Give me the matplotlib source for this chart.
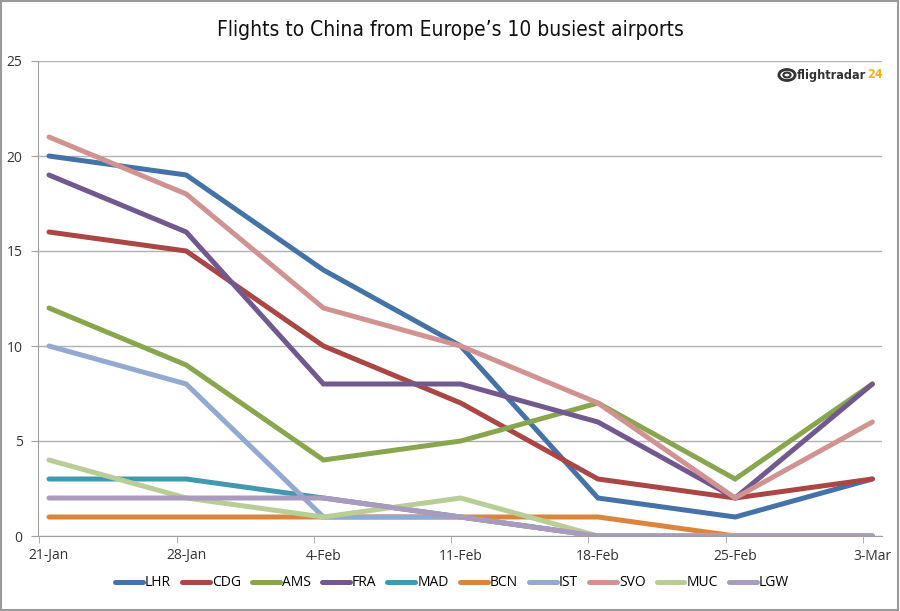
import matplotlib.pyplot as plt
from matplotlib.patches import Rectangle, Circle

# week labels
weeks = ['21-Jan', '28-Jan', '4-Feb', '11-Feb', '18-Feb', '25-Feb', '3-Mar']

# flights per airport
lhr = [20, 19, 14, 10, 2, 1, 3]
cdg = [16, 15, 10, 7, 3, 2, 3]
ams = [12, 9, 4, 5, 7, 3, 8]
fra = [19, 16, 8, 8, 6, 2, 8]
mad = [3, 3, 2, 1, 0, 0, 0]
bcn = [1, 1, 1, 1, 1, 0, 0]
ist = [10, 8, 1, 1, 0, 0, 0]
svo = [21, 18, 12, 10, 7, 2, 6]
muc = [4, 2, 1, 2, 0, 0, 0]
lgw = [2, 2, 2, 1, 0, 0, 0]

airports = ['LHR', 'CDG', 'AMS', 'FRA', 'MAD', 'BCN', 'IST', 'SVO', 'MUC', 'LGW']
series = [lhr, cdg, ams, fra, mad, bcn, ist, svo, muc, lgw]
colors = ['#4572A7', '#AA4643', '#89A54E', '#71588F', '#4198AF',
          '#DB843D', '#93A9CF', '#D19392', '#B9CD96', '#A99BBD']

plt.rcParams['font.family'] = ['Open Sans', 'DejaVu Sans']

fig = plt.figure(figsize=(9, 6.11), dpi=100)
ax = fig.add_axes([38 / 900, 1 - 536 / 611, (882 - 38) / 900, (536 - 61) / 611])

x = list(range(len(weeks)))
for name, vals, c in zip(airports, series, colors):
    ax.plot(x, vals, color=c, lw=3.6, label=name, solid_capstyle='round', solid_joinstyle='miter')

ax.set_xlim(-0.08, 6.07)
ax.set_ylim(0, 25)
ax.set_yticks([0, 5, 10, 15, 20, 25])
ax.set_xticks(x)
ax.set_xticklabels(weeks, fontsize=10, color='#333333')
ax.tick_params(axis='x', length=0, pad=9)
ax.set_xticks([i - 0.07 for i in x], minor=True)
ax.tick_params(axis='x', which='minor', length=5, color='#a0a0a0', direction='out')
ax.tick_params(axis='y', length=5, color='#a0a0a0', labelsize=10, labelcolor='#333333', pad=6)
ax.grid(axis='y', color='#b0b0b0', lw=1)
ax.set_axisbelow(True)
for s in ['top', 'right']:
    ax.spines[s].set_visible(False)
for s in ['left', 'bottom']:
    ax.spines[s].set_color('#a0a0a0')

fig.text(0.5, 1 - 30 / 611, 'Flights to China from Europe\u2019s 10 busiest airports',
         ha='center', va='center', fontsize=15, fontstretch='condensed',
         family=['DejaVu Sans'], color='#111111')

# logo
renderer = fig.canvas.get_renderer()
t1 = fig.text(797 / 900, 1 - 75 / 611, 'flightradar', ha='left', va='center', fontsize=9,
              color='#333333', fontweight='bold', fontstretch='condensed',
              family=['DejaVu Sans'])
bb = t1.get_window_extent(renderer)
fig.text((bb.x1 + 1) / 900, 1 - 75 / 611, '24', ha='left', va='center', fontsize=9,
         color='#f2b31b', fontweight='bold', fontstretch='condensed',
         family=['DejaVu Sans'])
fig.patches.append(Circle((787 / 900, 1 - 75 / 611), 0.009, transform=fig.transFigure,
                          fill=False, ec='#333333', lw=2))
fig.patches.append(Circle((787 / 900, 1 - 75 / 611), 0.004, transform=fig.transFigure,
                          fill=False, ec='#333333', lw=1.5))

ax.legend(loc='center', bbox_to_anchor=(452 / 900, 1 - 583 / 611), bbox_transform=fig.transFigure,
          ncol=10, frameon=False, fontsize=10, handlelength=2.0, handletextpad=0.15,
          columnspacing=0.8)

fig.patches.append(Rectangle((0.001, 0.001), 0.997, 0.997, transform=fig.transFigure,
                             fill=False, ec='#9a9a9a', lw=1.5))

plt.savefig('out.png', dpi=100)
